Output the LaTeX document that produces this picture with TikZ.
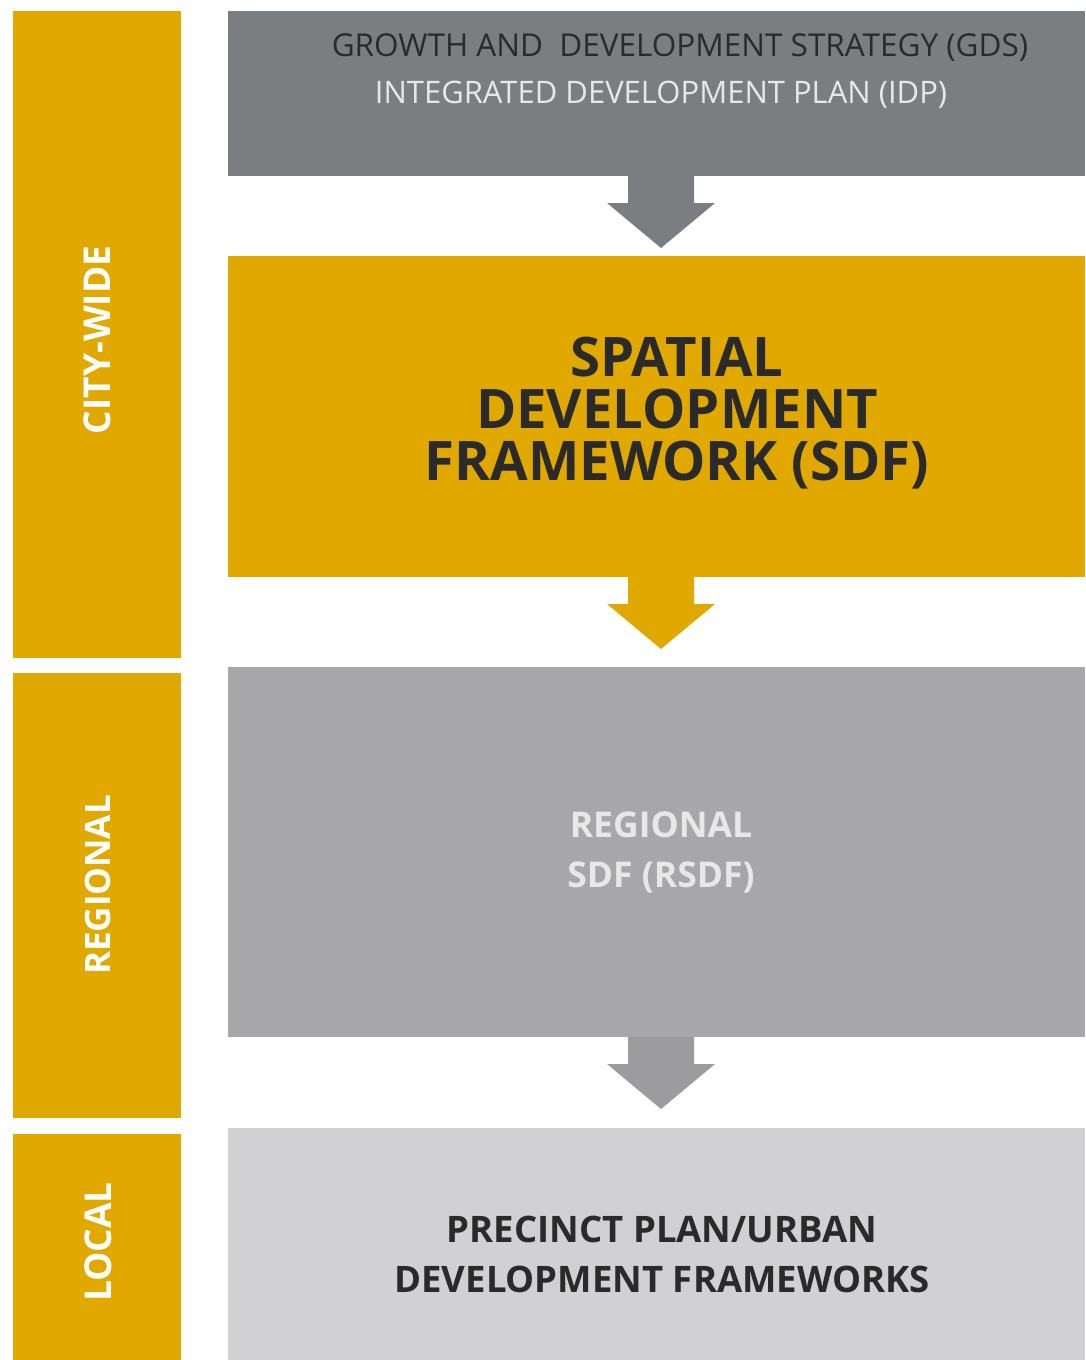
\documentclass[tikz,border=0pt]{standalone}
\usepackage{fontspec}
\setmainfont{Open Sans}
\begin{document}
\definecolor{gold}{HTML}{E1A800}
\definecolor{topgray}{HTML}{7B7E80}
\definecolor{reggray}{HTML}{A7A7AA}
\definecolor{locgray}{HTML}{D1D1D4}
\definecolor{arrowgray}{HTML}{9C9C9F}
\definecolor{darktext}{HTML}{2A2A2A}
\definecolor{lighttext}{HTML}{E8E8E8}
\begin{tikzpicture}[x=1pt,y=-1pt,
  box/.style={draw=none,inner sep=0pt,outer sep=0pt,anchor=north west},
  sidebar/.style={box,fill=gold,minimum width=168pt},
  sidelabel/.style={rotate=90,text=white,font=\bfseries\fontsize{37}{40}\selectfont},
]
\useasboundingbox (0,0) rectangle (1085,1360);
\fill[white] (0,0) rectangle (1085,1360);
% side bars
\node[sidebar,minimum height=647pt] (city) at (13,11) {};
\node[sidebar,minimum height=445pt] (reg) at (13,673) {};
\node[sidebar,minimum height=226pt] (loc) at (13,1134) {};
\node[sidelabel] (citylbl) at (97,340) {CITY-WIDE};
\node[sidelabel,font=\bfseries\fontsize{35}{40}\selectfont] (reglbl) at (98,885) {REGIONAL};
\node[sidelabel] (loclbl) at (98,1242) {LOCAL};
% main boxes
\node[box,fill=topgray,minimum width=857pt,minimum height=165pt] (gds) at (228,11) {};
\node[box,fill=gold,minimum width=857pt,minimum height=321pt] (sdf) at (228,256) {};
\node[box,fill=reggray,minimum width=857pt,minimum height=370pt] (rsdf) at (228,667) {};
\node[box,fill=locgray,minimum width=857pt,minimum height=232pt] (pp) at (228,1128) {};
% arrows
\coordinate (a1) at (661,176);
\coordinate (a2) at (661,577);
\coordinate (a3) at (661,1037);
\foreach \c/\col in {a1/topgray,a2/gold,a3/arrowgray}{
  \fill[\col] ([xshift=-33pt]\c) -- ([xshift=-33pt,yshift=-27pt]\c) -- ([xshift=-54pt,yshift=-27pt]\c)
     -- ([yshift=-72pt]\c) -- ([xshift=54pt,yshift=-27pt]\c) -- ([xshift=33pt,yshift=-27pt]\c)
     -- ([xshift=33pt]\c) -- cycle;
}
% texts
\node[text=darktext,font=\fontsize{31.5}{34}\selectfont,inner sep=0pt] (gdstxt) at (680,48) {GROWTH AND\ \ DEVELOPMENT STRATEGY (GDS)};
\node[text=lighttext,font=\fontsize{31}{34}\selectfont,inner sep=0pt] (idptxt) at (661,95) {INTEGRATED DEVELOPMENT PLAN (IDP)};
\node[text=darktext,font=\bfseries\fontsize{54.5}{52}\selectfont,align=center,inner sep=0pt] (sdftxt) at (677,413) {SPATIAL\\DEVELOPMENT\\FRAMEWORK (SDF)};
\node[text=lighttext,font=\bfseries\fontsize{35.5}{50}\selectfont,align=center,inner sep=0pt] (rsdftxt) at (661,852) {REGIONAL\\SDF (RSDF)};
\node[text=darktext,font=\bfseries\fontsize{36.5}{50}\selectfont,align=center,inner sep=0pt] (pptxt) at (662,1254) {PRECINCT PLAN/URBAN\\DEVELOPMENT FRAMEWORKS};
\end{tikzpicture}
\end{document}
